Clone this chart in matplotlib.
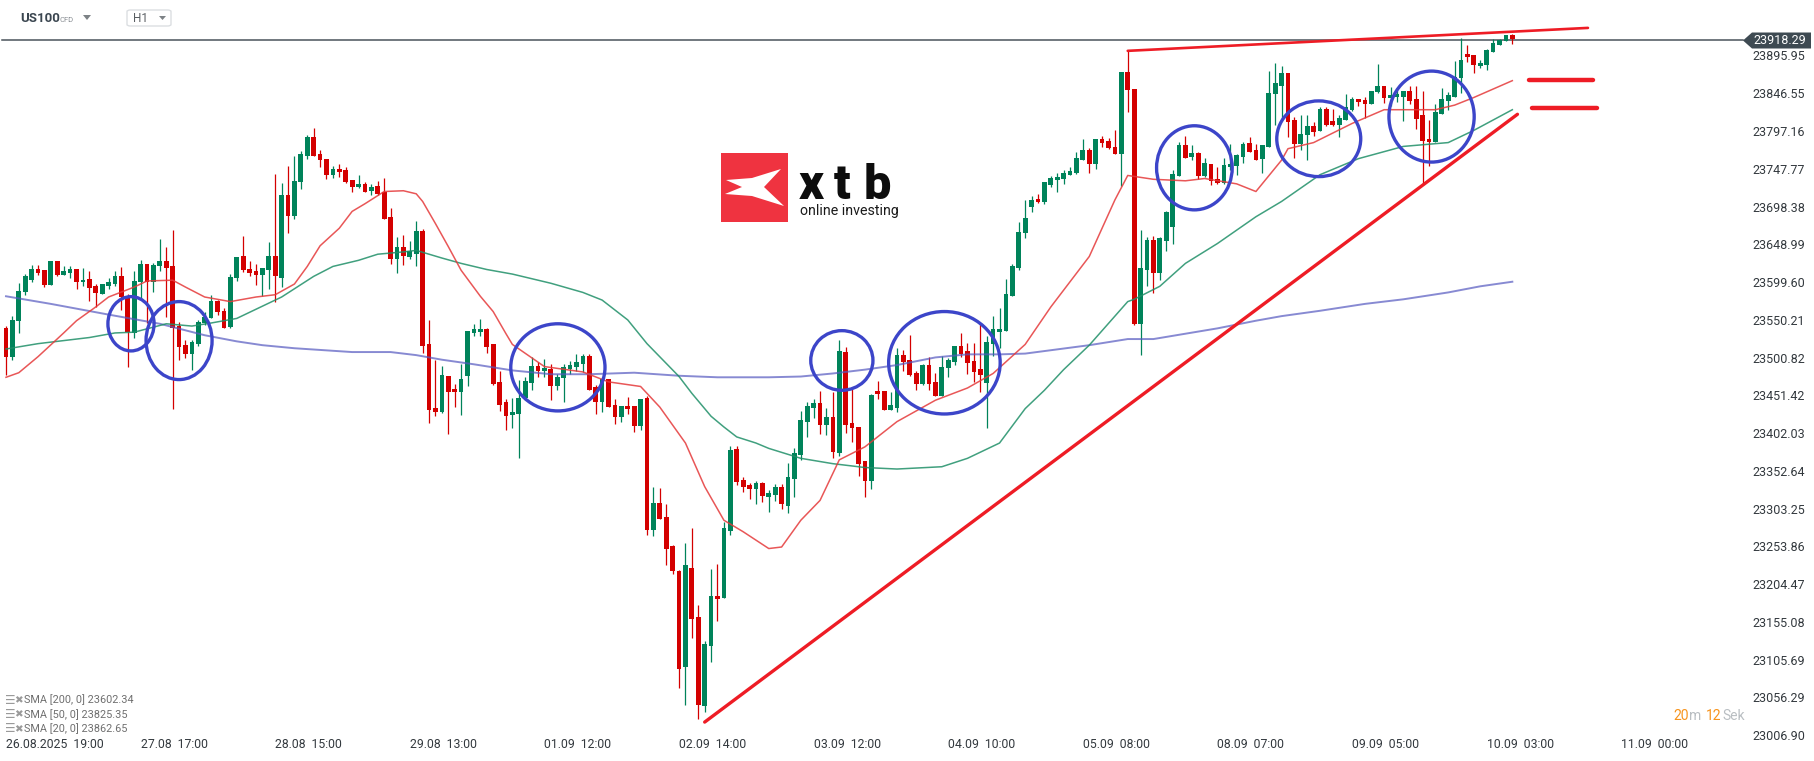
import matplotlib
matplotlib.use('Agg')
import matplotlib.pyplot as plt
from matplotlib.patches import Ellipse, Polygon, Rectangle, FancyBboxPatch
from matplotlib.transforms import blended_transform_factory

plt.rcParams['font.family'] = ['Roboto', 'DejaVu Sans']

W, H = 1815, 761

# US100 H1 bars, first bar 26.08.2025 19:00
opens = [
    23542, 23503, 23550, 23588, 23604, 23618, 23617, 23598, 23629, 23611,
    23614, 23619, 23601, 23606, 23597, 23586, 23597, 23599, 23610, 23583,
    23535, 23602, 23625, 23602, 23622, 23629, 23623, 23544, 23519, 23508,
    23521, 23548, 23555, 23577, 23564, 23543, 23607, 23636, 23619, 23616,
    23611, 23617, 23636, 23607, 23715, 23688, 23733, 23767, 23791, 23769,
    23763, 23741, 23749, 23748, 23735, 23726, 23730, 23721, 23727, 23719,
    23687, 23632, 23647, 23634, 23638, 23668, 23521, 23437, 23432, 23479,
    23462, 23458, 23479, 23535, 23536, 23540, 23521, 23471, 23445, 23428,
    23429, 23450, 23470, 23492, 23485, 23488, 23466, 23476, 23488, 23490,
    23494, 23505, 23464, 23445, 23475, 23441, 23425, 23439, 23439, 23413,
    23450, 23277, 23313, 23294, 23256, 23224, 23098, 23228, 23164, 23047,
    23126, 23191, 23188, 23276, 23383, 23343, 23336, 23331, 23339, 23320,
    23323, 23333, 23308, 23344, 23375, 23418, 23437, 23443, 23415, 23425,
    23378, 23510, 23417, 23412, 23367, 23341, 23459, 23459, 23434, 23437,
    23506, 23500, 23483, 23468, 23493, 23471, 23453, 23489, 23497, 23518,
    23511, 23498, 23488, 23470, 23521, 23536, 23538, 23583, 23620, 23666,
    23700, 23710, 23706, 23729, 23735, 23736, 23742, 23744, 23761, 23774,
    23756, 23789, 23786, 23778, 23769, 23876, 23854, 23547, 23617, 23657,
    23613, 23655, 23674, 23740, 23781, 23765, 23770, 23740, 23756, 23736,
    23731, 23752, 23753, 23765, 23783, 23774, 23763, 23778, 23848, 23858,
    23875, 23814, 23782, 23794, 23806, 23799, 23828, 23812, 23807, 23814,
    23827, 23841, 23840, 23834, 23850, 23858, 23842, 23844, 23844, 23851,
    23841, 23820, 23789, 23785, 23821, 23838, 23844, 23868, 23900, 23899,
    23884, 23885, 23902, 23912, 23917, 23925,
]
highs = [
    23544, 23557, 23600, 23612, 23624, 23624, 23617, 23629, 23629, 23623,
    23623, 23619, 23620, 23616, 23599, 23599, 23607, 23616, 23621, 23586,
    23616, 23631, 23625, 23626, 23658, 23647, 23670, 23549, 23526, 23526,
    23552, 23562, 23585, 23578, 23567, 23612, 23634, 23662, 23629, 23625,
    23620, 23654, 23743, 23731, 23753, 23766, 23773, 23794, 23803, 23774,
    23763, 23753, 23756, 23752, 23735, 23742, 23732, 23730, 23734, 23738,
    23698, 23660, 23663, 23655, 23681, 23671, 23552, 23500, 23492, 23479,
    23468, 23494, 23538, 23547, 23553, 23541, 23521, 23485, 23449, 23450,
    23473, 23477, 23504, 23497, 23501, 23494, 23481, 23494, 23498, 23507,
    23507, 23507, 23467, 23477, 23475, 23449, 23439, 23451, 23439, 23449,
    23453, 23334, 23332, 23311, 23258, 23225, 23260, 23280, 23179, 23132,
    23226, 23233, 23288, 23387, 23387, 23347, 23339, 23341, 23340, 23330,
    23337, 23337, 23365, 23384, 23433, 23445, 23449, 23459, 23437, 23458,
    23526, 23517, 23462, 23412, 23367, 23455, 23472, 23459, 23458, 23515,
    23513, 23532, 23485, 23494, 23504, 23483, 23505, 23502, 23518, 23535,
    23522, 23522, 23548, 23531, 23557, 23568, 23606, 23625, 23680, 23709,
    23714, 23717, 23732, 23740, 23744, 23748, 23752, 23772, 23789, 23777,
    23789, 23793, 23790, 23800, 23876, 23904, 23854, 23670, 23661, 23662,
    23661, 23695, 23748, 23785, 23793, 23781, 23772, 23764, 23756, 23752,
    23764, 23782, 23769, 23785, 23791, 23782, 23781, 23878, 23888, 23884,
    23875, 23817, 23820, 23820, 23811, 23831, 23831, 23828, 23820, 23848,
    23844, 23841, 23844, 23851, 23887, 23858, 23857, 23854, 23851, 23858,
    23858, 23851, 23814, 23834, 23855, 23850, 23891, 23921, 23912, 23899,
    23892, 23906, 23919, 23919, 23925, 23926,
]
lows = [
    23480, 23500, 23535, 23585, 23602, 23611, 23595, 23598, 23610, 23611,
    23607, 23593, 23597, 23577, 23569, 23586, 23593, 23597, 23565, 23491,
    23529, 23578, 23548, 23589, 23616, 23556, 23436, 23500, 23502, 23487,
    23518, 23546, 23555, 23559, 23542, 23542, 23603, 23615, 23610, 23598,
    23583, 23593, 23575, 23595, 23666, 23684, 23723, 23763, 23767, 23752,
    23736, 23738, 23739, 23731, 23719, 23725, 23719, 23715, 23715, 23684,
    23625, 23613, 23624, 23632, 23623, 23509, 23417, 23426, 23430, 23403,
    23438, 23428, 23466, 23531, 23531, 23509, 23467, 23433, 23408, 23411,
    23372, 23447, 23460, 23477, 23477, 23447, 23460, 23445, 23481, 23485,
    23484, 23460, 23429, 23432, 23438, 23416, 23419, 23429, 23405, 23408,
    23271, 23269, 23292, 23231, 23220, 23071, 23048, 23136, 23030, 23039,
    23105, 23158, 23188, 23271, 23336, 23327, 23318, 23311, 23314, 23301,
    23315, 23305, 23300, 23320, 23369, 23399, 23424, 23403, 23402, 23371,
    23374, 23404, 23392, 23348, 23320, 23331, 23449, 23434, 23434, 23432,
    23485, 23479, 23460, 23467, 23460, 23453, 23453, 23477, 23493, 23504,
    23481, 23471, 23458, 23411, 23505, 23515, 23538, 23583, 23617, 23659,
    23693, 23705, 23704, 23726, 23719, 23730, 23742, 23743, 23761, 23744,
    23749, 23778, 23776, 23769, 23727, 23824, 23545, 23506, 23596, 23587,
    23604, 23642, 23651, 23740, 23764, 23761, 23736, 23739, 23729, 23730,
    23730, 23748, 23742, 23757, 23772, 23761, 23744, 23778, 23807, 23814,
    23791, 23764, 23774, 23761, 23793, 23799, 23806, 23806, 23791, 23814,
    23825, 23832, 23816, 23834, 23849, 23836, 23832, 23837, 23812, 23834,
    23802, 23728, 23753, 23785, 23821, 23827, 23844, 23849, 23889, 23875,
    23882, 23879, 23902, 23912, 23917, 23913,
]
closes = [
    23503, 23552, 23590, 23610, 23619, 23614, 23598, 23629, 23611, 23616,
    23619, 23601, 23604, 23594, 23587, 23599, 23602, 23610, 23582, 23536,
    23603, 23625, 23601, 23624, 23629, 23620, 23542, 23517, 23508, 23523,
    23549, 23556, 23577, 23562, 23542, 23608, 23634, 23617, 23614, 23611,
    23620, 23636, 23609, 23715, 23688, 23734, 23769, 23791, 23767, 23761,
    23741, 23749, 23745, 23733, 23726, 23730, 23719, 23726, 23717, 23684,
    23632, 23647, 23636, 23642, 23668, 23518, 23434, 23432, 23480, 23458,
    23458, 23475, 23538, 23540, 23540, 23517, 23468, 23441, 23426, 23432,
    23450, 23472, 23492, 23485, 23489, 23466, 23477, 23490, 23493, 23497,
    23505, 23460, 23445, 23475, 23438, 23425, 23439, 23436, 23413, 23449,
    23277, 23313, 23292, 23252, 23224, 23096, 23232, 23161, 23048, 23128,
    23191, 23187, 23280, 23382, 23340, 23334, 23331, 23339, 23322, 23326,
    23333, 23311, 23347, 23378, 23421, 23439, 23443, 23415, 23425, 23379,
    23511, 23415, 23411, 23364, 23341, 23454, 23455, 23434, 23441, 23506,
    23497, 23480, 23468, 23493, 23468, 23453, 23490, 23500, 23518, 23507,
    23496, 23484, 23480, 23523, 23540, 23540, 23586, 23623, 23667, 23685,
    23709, 23706, 23732, 23738, 23739, 23744, 23747, 23764, 23774, 23756,
    23789, 23784, 23777, 23769, 23876, 23853, 23547, 23620, 23657, 23613,
    23659, 23693, 23743, 23781, 23764, 23770, 23740, 23757, 23734, 23731,
    23755, 23756, 23768, 23782, 23772, 23761, 23781, 23849, 23862, 23875,
    23811, 23782, 23795, 23806, 23798, 23828, 23807, 23807, 23816, 23831,
    23841, 23837, 23834, 23851, 23858, 23842, 23846, 23847, 23851, 23838,
    23815, 23786, 23785, 23824, 23841, 23846, 23870, 23892, 23896, 23885,
    23888, 23905, 23914, 23918, 23925, 23919,
]

# moving averages (bar index, value)
sma20_idx = [0, 2, 5, 9, 11, 14, 16, 20, 22, 26, 28, 31, 35, 39, 42, 45, 47, 49, 52, 54,
             56, 59, 62, 64, 65, 67, 69, 71, 74, 76, 78, 79, 84, 90, 94, 99, 102, 106, 109, 112,
             115, 119, 121, 124, 127, 130, 134, 139, 145, 150, 154, 159, 163, 169, 173, 175, 179, 184, 187, 192,
             195, 199, 200, 204, 210, 215, 223, 226, 229, 235]
sma20_val = [23477, 23483, 23504, 23535, 23551, 23569, 23582, 23595, 23603, 23604,
             23595, 23582, 23576, 23582, 23585, 23599, 23622, 23649, 23672, 23694,
             23704, 23720, 23721, 23717, 23707, 23678, 23648, 23617, 23583, 23563,
             23534, 23520, 23491, 23484, 23471, 23465, 23438, 23391, 23334, 23290,
             23275, 23253, 23255, 23290, 23316, 23369, 23386, 23419, 23447, 23463,
             23482, 23520, 23569, 23635, 23709, 23741, 23736, 23734, 23737, 23730,
             23720, 23761, 23776, 23784, 23809, 23827, 23827, 23833, 23843, 23865]
sma50_idx = [0, 5, 13, 17, 20, 25, 29, 32, 36, 40, 43, 48, 51, 55, 58, 62, 64, 68, 71, 75,
             79, 85, 90, 93, 97, 100, 105, 107, 110, 112, 114, 117, 119, 124, 129, 134, 139, 146, 150, 155,
             159, 162, 165, 169, 175, 176, 180, 184, 189, 195, 199, 205, 211, 218, 225, 229, 235]
sma50_val = [23514, 23521, 23529, 23535, 23536, 23547, 23544, 23548, 23554, 23570,
             23582, 23609, 23622, 23630, 23638, 23641, 23643, 23633, 23626, 23618,
             23612, 23600, 23588, 23578, 23552, 23521, 23478, 23456, 23426, 23412,
             23399, 23391, 23384, 23371, 23364, 23359, 23357, 23360, 23371, 23391,
             23436, 23460, 23487, 23519, 23576, 23579, 23596, 23626, 23652, 23687,
             23707, 23742, 23763, 23779, 23784, 23800, 23827]
sma200_idx = [0, 7, 16, 24, 31, 36, 40, 45, 54, 60, 64, 68, 73, 79, 85, 91, 98, 105, 111, 119,
              124, 129, 134, 139, 145, 150, 155, 159, 169, 175, 179, 184, 189, 195, 199, 205, 212, 218, 225, 230,
              235]
sma200_val = [23583, 23573, 23559, 23547, 23532, 23524, 23519, 23515, 23510, 23510,
              23506, 23500, 23494, 23486, 23481, 23481, 23483, 23479, 23477, 23477,
              23478, 23482, 23487, 23493, 23503, 23507, 23507, 23508, 23519, 23527,
              23527, 23534, 23541, 23551, 23557, 23564, 23573, 23579, 23588, 23596,
              23602]

legend_rows = ['SMA [200, 0] 23602.34', 'SMA [50, 0] 23825.35', 'SMA [20, 0] 23862.65']
last_price = 23918.29

price_ticks = [23006.90, 23056.29, 23105.69, 23155.08, 23204.47, 23253.86, 23303.25,
               23352.64, 23402.03, 23451.42, 23500.82, 23550.21, 23599.60, 23648.99,
               23698.38, 23747.77, 23797.16, 23846.55, 23895.95]
time_ticks = [0, 21, 42, 63, 84, 105, 126, 147, 168, 189, 210, 231, 252]
time_labels = ['26.08.2025  19:00', '27.08  17:00', '28.08  15:00', '29.08  13:00',
               '01.09  12:00', '02.09  14:00', '03.09  12:00', '04.09  10:00',
               '05.09  08:00', '08.09  07:00', '09.09  05:00', '10.09  03:00',
               '11.09  00:00']

# drawings on the chart
support_x, support_y = [109.0, 235.8], [23026, 23821]
resist_x, resist_y = [175.0, 246.8], [23904, 23934]
marks_x = [(237.6, 247.6), (238.1, 248.2)]
marks_y = [23865.5, 23829]
ell_x = [19.5, 27.0, 86.1, 130.4, 146.4, 185.4, 204.8, 222.4]
ell_y = [23547, 23525, 23490, 23499, 23496, 23751, 23789, 23818]
ell_w = [7.2, 10.3, 14.7, 9.7, 17.4, 11.8, 13.1, 13.3]
ell_h = [71, 102, 114, 78, 134, 110, 99, 119]


def px(x, y):
    return x / W, 1 - y / H


fig = plt.figure(figsize=(W / 100, H / 100), dpi=100)
fig.patch.set_facecolor('white')
ax = fig.add_axes([0, 0, 1, 1])
ax.set_xlim(-0.936, 282.22)
ax.set_ylim(22975.1, 23970.5)
ax.axis('off')

up_col, dn_col = '#00835a', '#d40000'
for i in range(len(opens)):
    o, hi, lo, c = opens[i], highs[i], lows[i], closes[i]
    col = up_col if c >= o else dn_col
    ax.vlines(i, lo, hi, color=col, lw=0.9, zorder=3)
    ax.add_patch(Rectangle((i - 0.37, min(o, c)), 0.74, max(abs(c - o), 1.3),
                           facecolor=col, edgecolor='none', zorder=4))

ax.plot(sma200_idx, sma200_val, color='#5558c0', lw=1.4, alpha=0.7, zorder=5)
ax.plot(sma50_idx, sma50_val, color='#1f8f68', lw=1.1, alpha=0.85, zorder=5)
ax.plot(sma20_idx, sma20_val, color='#e5393a', lw=1.1, alpha=0.85, zorder=5)

for cx, cy, w, h in zip(ell_x, ell_y, ell_w, ell_h):
    ax.add_patch(Ellipse((cx, cy), w, h, fill=False, edgecolor='#3c45c9', lw=2.4, zorder=6))

ax.plot(support_x, support_y, color='#ee1c25', lw=2.4, zorder=7, solid_capstyle='round')
ax.plot(resist_x, resist_y, color='#ee1c25', lw=1.9, zorder=7, solid_capstyle='round')
for (x0, x1), y in zip(marks_x, marks_y):
    ax.plot([x0, x1], [y, y], color='#ee1c25', lw=3.2, zorder=7, solid_capstyle='round')

# current price line and tag
ax.plot([-0.6, 271.0], [last_price, last_price], color='#4a545b', lw=1.1, zorder=2)
tag = [px(1743, 40.5), px(1752, 32.5), px(1811, 32.5), px(1811, 48.5), px(1752, 48.5)]
fig.add_artist(Polygon(tag, closed=True, transform=fig.transFigure,
                       facecolor='#3e4a52', edgecolor='none', zorder=10))
fig.text(*px(1780, 41), f'{last_price:.2f}', color='white', fontsize=9,
         ha='center', va='center', zorder=11)

# price axis labels
ty = blended_transform_factory(fig.transFigure, ax.transData)
for v in price_ticks:
    ax.text(1805 / W, v, f'{v:.2f}', transform=ty, ha='right', va='center',
            fontsize=9, color='#33393e')

# time axis labels
tx = blended_transform_factory(ax.transData, fig.transFigure)
for t, lab in zip(time_ticks, time_labels):
    ax.text(t, 1 - 744 / H, lab, transform=tx, ha='left', va='center',
            fontsize=8.8, color='#33393e')

# header
fig.text(*px(20, 19), 'US100', fontsize=9.5, fontweight='bold', color='#3b4650',
         ha='left', va='center')
fig.text(*px(60, 19.5), 'CFD', fontsize=5.5, color='#8a8f94', ha='left', va='center')
fig.add_artist(Polygon([px(83, 15), px(91, 15), px(87, 20)], closed=True,
                       transform=fig.transFigure, facecolor='#7d8286', edgecolor='none'))
x0, y0 = px(127, 26)
x1, y1 = px(171, 10)
fig.add_artist(FancyBboxPatch((x0, y0), x1 - x0, y1 - y0, boxstyle='round,pad=0,rounding_size=0.002',
                              transform=fig.transFigure, facecolor='white',
                              edgecolor='#dcdfe2', lw=1))
fig.text(*px(133, 18.5), 'H1', fontsize=8.5, color='#5a5f63', ha='left', va='center')
fig.add_artist(Polygon([px(159, 16), px(166, 16), px(162.5, 20)], closed=True,
                       transform=fig.transFigure, facecolor='#7d8286', edgecolor='none'))

# logo
x0, y0 = px(720.7, 221.7)
x1, y1 = px(788.3, 153.3)
fig.add_artist(Rectangle((x0, y0), x1 - x0, y1 - y0, transform=fig.transFigure,
                         facecolor='#ef3340', edgecolor='none', zorder=8))
mark = [px(726, 180), px(752, 178), px(781, 169), px(764, 187), px(784, 206),
        px(752, 196), px(725, 194), px(742, 187)]
fig.add_artist(Polygon(mark, closed=True, transform=fig.transFigure,
                       facecolor='white', edgecolor='none', zorder=9))
for ch, xl in zip('xtb', [799, 834, 864]):
    fig.text(*px(xl, 199), ch, fontsize=35, fontweight='black', color='#0d0d0d',
             ha='left', va='baseline', zorder=9)
fig.text(*px(800, 215), 'online investing', fontsize=10.2, fontweight='normal',
         color='#1a1a1a', ha='left', va='baseline', zorder=9)

# indicator legend
for k, row in enumerate(legend_rows):
    yy = 700 + 14.5 * k
    fig.text(*px(5, yy), '☰', fontsize=8.5, color='#9a9a9a', ha='left', va='center',
             family=['DejaVu Sans'])
    fig.text(*px(14.5, yy), '✖', fontsize=7.5, color='#9a9a9a', ha='left', va='center',
             family=['DejaVu Sans'])
    fig.text(*px(24, yy), row, fontsize=7.8, color='#6f6f6f', ha='left', va='center')

# candle countdown
for s, xl, col in [('20', 1673, '#f7941d'), ('m', 1689, '#b9bec2'),
                   ('12', 1706, '#f7941d'), ('Sek', 1722, '#b9bec2')]:
    fig.text(*px(xl, 716), s, fontsize=10, color=col, ha='left', va='center')

fig.savefig('out.png', dpi=100, facecolor='white')
